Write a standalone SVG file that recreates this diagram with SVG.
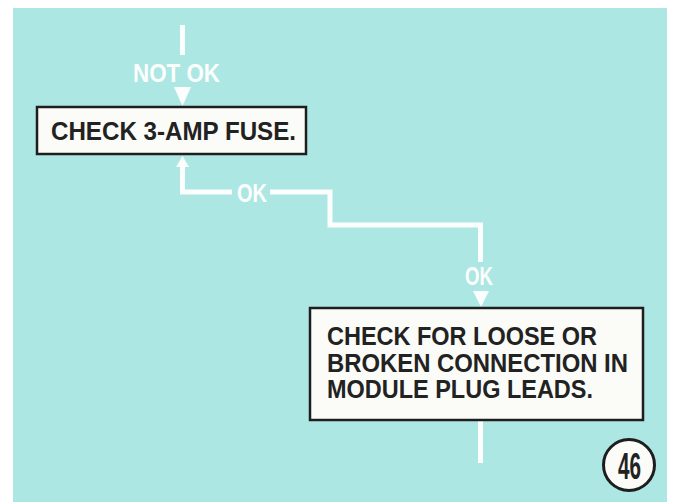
<svg xmlns="http://www.w3.org/2000/svg" width="673" height="502" viewBox="0 0 673 502">
<style>
.conn{fill:none;stroke:#fbfefd;stroke-width:5;stroke-linejoin:miter;stroke-linecap:butt}
.head{fill:#fbfefd}
.lbl{font-family:"Liberation Sans Narrow","Liberation Sans",sans-serif;font-weight:bold;font-size:26px;fill:#fbfefd}
.box{fill:#fbfbf8;stroke:#1e1e1e;stroke-width:2.5}
.txt{font-family:"Liberation Sans Narrow","Liberation Sans",sans-serif;font-weight:bold;font-size:25px;fill:#222}
</style>
<rect x="0" y="0" width="673" height="502" fill="#ffffff"/>
<rect x="13" y="8" width="654" height="494" fill="#ade7e3"/>
<g id="connectors">
<path class="conn" d="M182.5 25 V55"/>
<text class="lbl" x="133" y="82" textLength="87" lengthAdjust="spacingAndGlyphs">NOT OK</text>
<polygon class="head" points="174,87 191,87 182.5,106"/>
<polygon class="head" points="176,167 189,167 182.5,156"/>
<path class="conn" d="M182.5 166 V192 H232"/>
<text class="lbl" x="237" y="202" textLength="30" lengthAdjust="spacingAndGlyphs">OK</text>
<path class="conn" d="M270 192 H330 V225 H480.5 V262"/>
<text class="lbl" x="465" y="285" textLength="28" lengthAdjust="spacingAndGlyphs">OK</text>
<polygon class="head" points="473,291 489,291 481,307"/>
<path class="conn" d="M480.5 421 V463"/>
</g>
<g id="node-fuse">
<rect class="box" x="37" y="107" width="269" height="47"/>
<text class="txt" x="51" y="140" font-size="26" textLength="245" lengthAdjust="spacingAndGlyphs">CHECK 3-AMP FUSE.</text>
</g>
<g id="node-connection">
<rect class="box" x="310" y="308" width="333" height="112"/>
<text class="txt" x="327" y="345" textLength="270" lengthAdjust="spacingAndGlyphs">CHECK FOR LOOSE OR</text>
<text class="txt" x="327" y="372" textLength="301" lengthAdjust="spacingAndGlyphs">BROKEN CONNECTION IN</text>
<text class="txt" x="327" y="398" textLength="266" lengthAdjust="spacingAndGlyphs">MODULE PLUG LEADS.</text>
</g>
<g id="page-number">
<circle cx="629" cy="465" r="25.5" fill="#fbfbf8" stroke="#1e1e1e" stroke-width="3"/>
<text x="629.5" y="479" text-anchor="middle" font-family="Liberation Sans Narrow, Liberation Sans, sans-serif" font-weight="bold" font-size="36" fill="#222" textLength="23" lengthAdjust="spacingAndGlyphs">46</text>
</g>
</svg>
